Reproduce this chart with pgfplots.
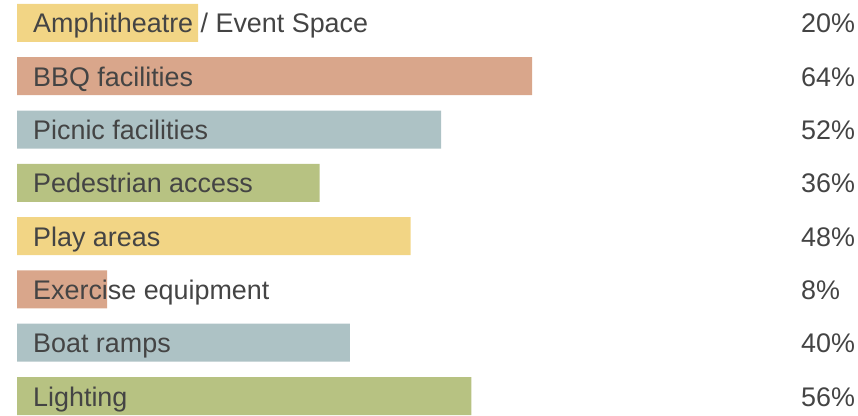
\documentclass[border=0pt]{standalone}
\usepackage{pgfplots}
\pgfplotsset{compat=1.18}
\usepackage{fontspec}
\setmainfont{Liberation Sans}
\definecolor{cYel}{HTML}{F2D585}
\definecolor{cSal}{HTML}{D9A68B}
\definecolor{cBlu}{HTML}{ADC2C5}
\definecolor{cGrn}{HTML}{B7C282}
\definecolor{txt}{HTML}{444444}

\pgfplotsset{
  base/.style={
    scale only axis, width=836bp, height=416bp,
    at={(0,0)}, anchor=south west,
    xmin=0, xmax=110.14,
    ymin=-0.43, ymax=7.375, y dir=reverse,
    axis line style={draw=none}, clip=false,
    xtick=\empty, ytick={0,...,7}, major tick length=0pt,
    tick label style={font=\fontsize{27}{31}\selectfont, text=txt, inner sep=0pt},
  },
}

\begin{document}
\begin{tikzpicture}
\path (-17bp,0) rectangle (841bp,416bp);
\begin{axis}[base,
    xbar, bar width=38bp, bar shift=0pt,
    x filter/.expression={x+3.86},
    yticklabels={Amphitheatre / Event Space, BBQ facilities, Picnic facilities,
      Pedestrian access, Play areas, Exercise equipment, Boat ramps, Lighting},
    yticklabel style={anchor=base west, xshift=16bp, yshift=-10bp},
    axis on top,
  ]
  \addplot[draw=none, fill=cYel] coordinates {(20,0) (48,4)};
  \addplot[draw=none, fill=cSal] coordinates {(64,1) (8,5)};
  \addplot[draw=none, fill=cBlu] coordinates {(52,2) (40,6)};
  \addplot[draw=none, fill=cGrn] coordinates {(36,3) (56,7)};
\end{axis}
\begin{axis}[base,
    yticklabel pos=right,
    yticklabels={20\%, 64\%, 52\%, 36\%, 48\%, 8\%, 40\%, 56\%},
    yticklabel style={anchor=base west, xshift=-52bp, yshift=-10bp},
  ]
  \addplot[draw=none] coordinates {(0,0)};
\end{axis}
\end{tikzpicture}
\end{document}
